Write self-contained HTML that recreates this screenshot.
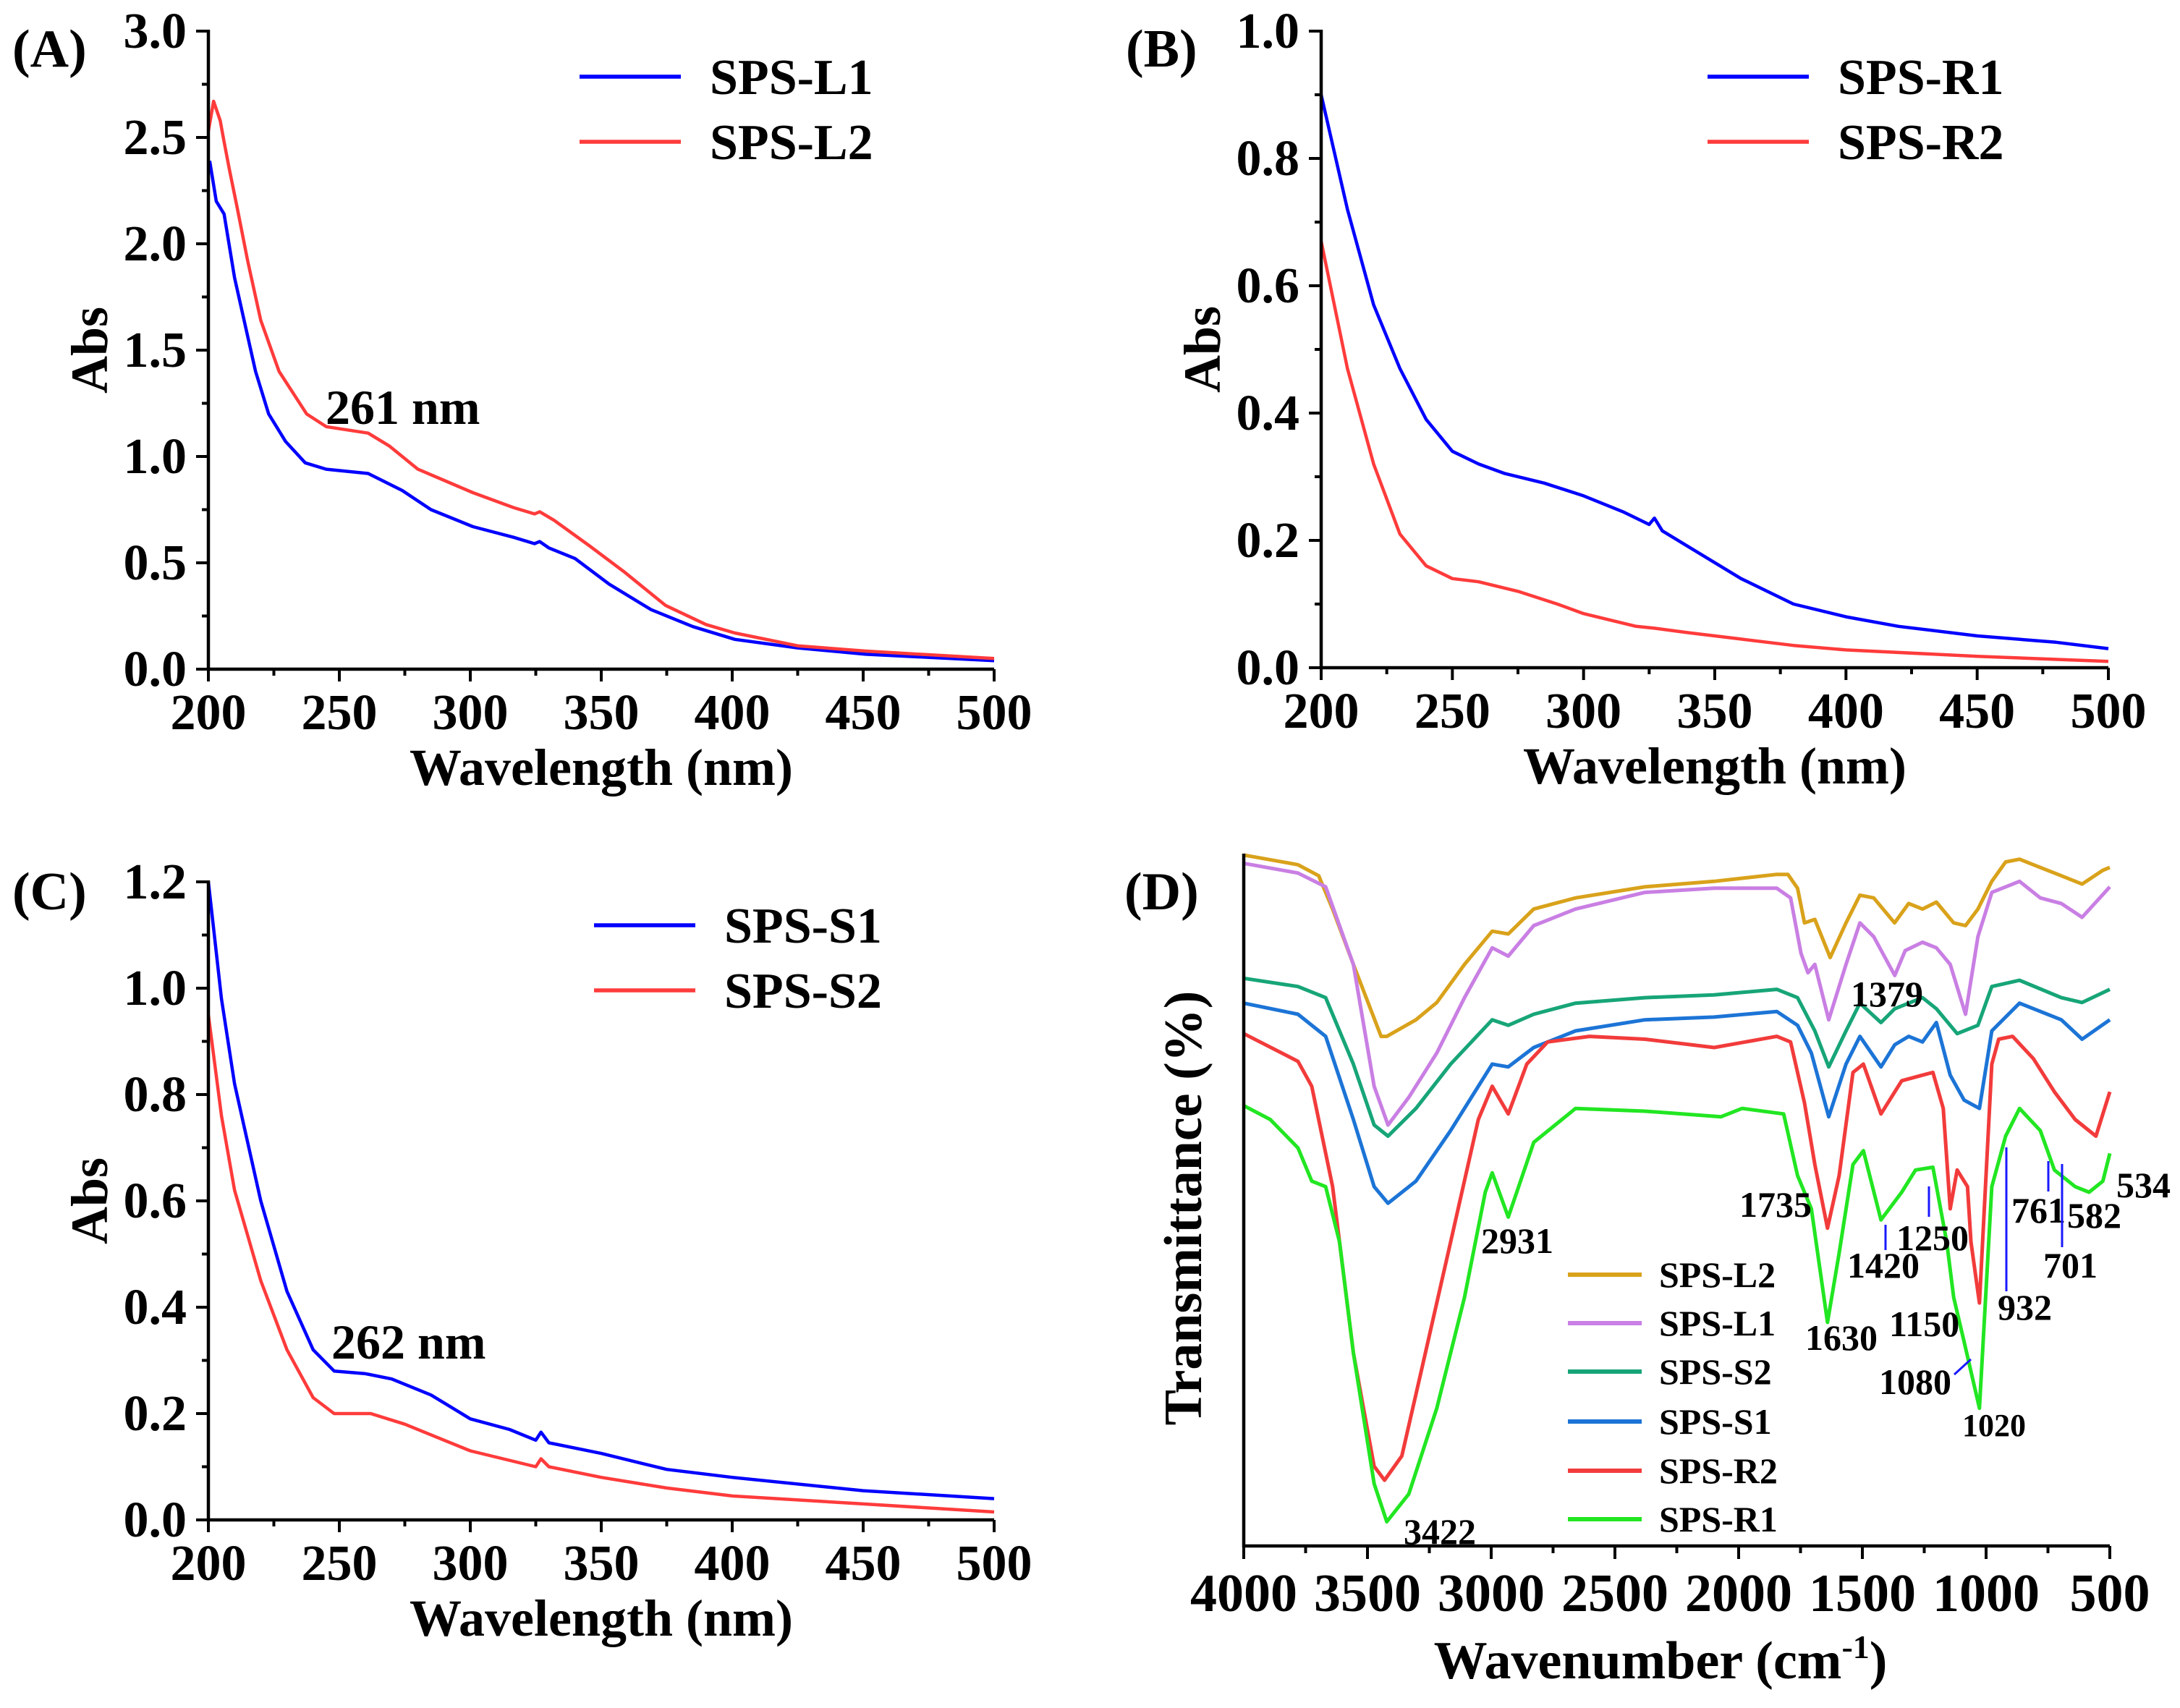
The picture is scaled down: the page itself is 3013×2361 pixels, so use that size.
<!DOCTYPE html>
<html><head><meta charset="utf-8">
<style>
html,body{margin:0;padding:0;background:#fff;}
svg{display:block;}
text{font-family:"Liberation Serif",serif;font-weight:bold;fill:#000;}
</style></head>
<body>
<svg id="fig" width="3013" height="2361" viewBox="0 0 3013 2361" xmlns="http://www.w3.org/2000/svg">
<rect width="3013" height="2361" fill="#fff"/>
</svg>
<script>
// ---------- Panel A data ----------
const aWlL1 = [200.5,203,206,210,214,218,223,229.5,237,245,261,274,285,301,316.5,324.5,326.5,330,340,353,369,385,401,425,451,500];
const aAbsL1 = [2.39,2.2,2.14,1.84,1.62,1.4,1.2,1.07,0.97,0.94,0.92,0.84,0.75,0.67,0.62,0.59,0.6,0.57,0.52,0.4,0.28,0.2,0.14,0.1,0.07,0.04];
const aWlL2 = [200,202,204.5,206,208,211,215,220,227,237.5,245,261,269,280,301,316.5,324.5,326.5,332,345.5,358.5,374.5,390,401,425,451,500];
const aAbsL2 = [2.53,2.67,2.58,2.48,2.35,2.17,1.92,1.64,1.4,1.2,1.14,1.11,1.05,0.94,0.83,0.76,0.73,0.74,0.7,0.58,0.46,0.3,0.21,0.17,0.11,0.085,0.05];
// ---------- Panel B data ----------
const bWlR1 = [200,210,220,230,240,250,260,270,285,300,315,325,327,330,340,360,380,400,420,450,480,500];
const bAbsR1 = [0.9,0.72,0.57,0.47,0.39,0.34,0.32,0.305,0.29,0.27,0.245,0.225,0.235,0.215,0.19,0.14,0.1,0.08,0.065,0.05,0.04,0.03];
const bWlR2 = [200,210,220,230,240,250,260,275,290,300,320,327,340,360,380,400,450,500];
const bAbsR2 = [0.67,0.47,0.32,0.21,0.16,0.14,0.135,0.12,0.1,0.085,0.065,0.062,0.055,0.045,0.035,0.028,0.018,0.01];
// ---------- Panel C data ----------
const cWlS1 = [200,205,210,220,230,240,248,260,270,285,300,315,325,327,330,350,375,400,450,500];
const cAbsS1 = [1.2,0.98,0.82,0.6,0.43,0.32,0.28,0.275,0.265,0.235,0.19,0.17,0.15,0.165,0.145,0.125,0.095,0.08,0.055,0.04];
const cWlS2 = [200,205,210,220,230,240,248,262,275,290,300,325,327,330,350,375,400,450,500];
const cAbsS2 = [0.95,0.76,0.62,0.45,0.32,0.23,0.2,0.2,0.18,0.15,0.13,0.1,0.115,0.1,0.08,0.06,0.045,0.03,0.015];
// ---------- Panel D data (FTIR) ----------
const dWnL2 = [4000,3781,3697,3641,3557,3445,3422,3304,3220,3108,2996,2931,2828,2659,2379,2099,1846,1801,1762,1734,1692,1630,1566,1510,1454,1370,1313,1257,1201,1131,1083,1033,977,921,865,809,696,612,528,500];
const dTL2 = [99.8,98.4,96.8,92,84,73.6,73.6,76,78.5,84,88.8,88.4,92,93.6,95.2,96,97,97,95,90,90.5,85,90,94,93.6,90,92.8,92,93,90,89.6,92,96,98.8,99.2,98.4,96.8,95.6,97.6,98];
const dWnL1 = [4000,3781,3669,3557,3473,3417,3333,3220,3108,2996,2931,2828,2659,2379,2099,1846,1790,1748,1720,1692,1636,1566,1510,1454,1369,1327,1257,1201,1145,1083,1033,977,865,781,696,612,500];
const dTL1 = [98.6,97.2,95.2,84,66.4,60.8,64.8,71.2,79.2,86.4,85.2,89.6,92,94.4,95,95,93.6,85.6,82.8,84,76,84,90,88,82.4,86,87.2,86.4,84,76.8,88,94.4,96,93.6,92.8,90.8,95.2];
const dWnS2 = [4000,3781,3669,3557,3473,3417,3304,3164,2996,2931,2828,2659,2379,2099,1846,1762,1692,1636,1566,1510,1425,1369,1313,1257,1201,1117,1033,977,865,696,612,500];
const dTS2 = [82,80.8,79.2,69.6,60.8,59.2,63.2,69.6,76,75.2,76.8,78.4,79.2,79.6,80.4,79.2,74.4,69.2,74.4,78.4,75.6,77.6,78.4,79.2,77.6,74,75.2,80.8,81.7,79.2,78.5,80.4];
const dWnS1 = [4000,3781,3669,3557,3473,3417,3304,3164,2996,2931,2828,2659,2379,2099,1846,1762,1706,1636,1566,1510,1425,1369,1313,1257,1201,1145,1089,1027,977,865,696,612,500];
const dTS1 = [78.4,76.8,73.6,61.6,51.9,49.5,52.7,60,69.6,69.2,72,74.4,76,76.4,77.2,75.2,71.2,62,69.6,73.6,69.2,72.4,73.6,72.8,75.6,68,64.4,63.2,74.4,78.4,76,73.2,76];
const dWnR2 = [4000,3781,3725,3641,3557,3473,3431,3361,3276,3164,3052,2996,2931,2856,2772,2603,2379,2099,1846,1790,1734,1692,1641,1594,1538,1496,1425,1341,1257,1215,1173,1145,1117,1075,1061,1027,977,949,893,809,724,640,556,500];
const dTR2 = [74,70,66.4,51.9,27.9,11.5,9.5,13,26.3,43.9,61.6,66.4,62.4,69.6,72.8,73.6,73.2,72,73.6,72.8,64,55.1,45.9,53.5,68.4,69.6,62.4,67.2,68,68.4,63.2,48.7,54.3,51.9,43.9,35.1,69.6,73.2,73.6,70.4,65.6,61.6,59.2,65.6];
const dWnR1 = [4000,3893,3781,3725,3669,3613,3557,3473,3422,3333,3220,3108,3024,2996,2931,2828,2659,2379,2071,1986,1818,1762,1706,1641,1594,1538,1496,1425,1341,1285,1215,1159,1131,1089,1027,977,921,865,781,724,640,584,528,500];
const dTR1 = [63.6,61.6,57.5,52.7,51.9,43.9,27.9,9,3.5,7.5,19.9,35.9,51.1,53.9,47.5,58.3,63.2,62.8,62,63.2,62.4,53.5,48.7,32.3,42.3,55.1,57.1,47.1,51.1,54.3,54.7,43.9,35.9,29.5,19.9,51.9,59.2,63.2,60,54.3,51.9,51.1,52.7,56.7];
const dNames = ["SPS-L2","SPS-L1","SPS-S2","SPS-S1","SPS-R2","SPS-R1"];
const dPeakLabels = ["3422","2931","1735","1630","1420","1379","1250","1150","1080","1020","932","761","701","582","534"];

const NS = "http://www.w3.org/2000/svg";
const svg = document.getElementById('fig');
function mk(tag, attrs, parent){
  const e = document.createElementNS(NS, tag);
  for (const k in attrs) e.setAttribute(k, attrs[k]);
  (parent||svg).appendChild(e);
  return e;
}
function txt(str, x, y, size, anchor, parent){
  const t = mk('text', {x:x, y:y, 'font-size':size, 'text-anchor':anchor||'start'}, parent);
  t.textContent = str;
  return t;
}
function linScale(d0,d1,r0,r1){ return v => r0 + (v-d0)/(d1-d0)*(r1-r0); }
function pathFrom(xs, ys, sx, sy){
  let d = '';
  for (let i=0;i<xs.length;i++) d += (i?'L':'M') + sx(xs[i]).toFixed(1) + ',' + sy(ys[i]).toFixed(1);
  return d;
}

function uvPanel(cfg){
  const g = mk('g', {});
  
  
  const sx = linScale(200,500,cfg.x0,cfg.x1);
  const sy = linScale(0,cfg.ymax,cfg.y0,cfg.y1);
  cfg.series.forEach(s=>{
    const p = mk('path', {d:pathFrom(s.x,s.y,sx,sy), fill:'none', stroke:s.color, 'stroke-width':4.5, 'stroke-linejoin':'round'}, g);
    
    
  });
  const ax = mk('path', {d:`M${cfg.x0},${cfg.y1-2}L${cfg.x0},${cfg.y0}L${cfg.x1},${cfg.y0}`, fill:'none', stroke:'#000', 'stroke-width':4.5}, g);
  
  
  for (let v=200; v<=500; v+=25){
    const major = v%50===0;
    mk('line', {x1:sx(v), x2:sx(v), y1:cfg.y0, y2:cfg.y0+(major?17:9), stroke:'#000','stroke-width':4}, g);
    if (major){
      const t = txt(String(v), sx(v), cfg.y0+83, 70, 'middle', g);
      
      
    }
  }
  const nMinor = Math.round(cfg.ymax/(cfg.ystep/2));
  for (let i=0;i<=nMinor;i++){
    const v = i*cfg.ystep/2;
    const major = i%2===0;
    mk('line', {x1:cfg.x0, x2:cfg.x0-(major?17:9), y1:sy(v), y2:sy(v), stroke:'#000','stroke-width':4}, g);
    if (major){
      const t = txt(v.toFixed(1), cfg.x0-30, sy(v)+23, 70, 'end', g);
      
      
    }
  }
  const xl = txt('Wavelength (nm)', (cfg.x0+cfg.x1)/2, cfg.y0+160, 72, 'middle', g);
  
  
  const yl = txt('Abs', 0, 0, 72, 'middle', g);
  yl.setAttribute('transform', `translate(${cfg.x0-140},${(cfg.y0+cfg.y1)/2}) rotate(-90)`);
  
  
  const pl = txt(cfg.label, cfg.labX, cfg.labY, 74, 'start', g);
  
  
  cfg.series.forEach((s,i)=>{
    const ly = cfg.legY + i*90;
    const ll = mk('line', {x1:cfg.legX, x2:cfg.legX+140, y1:ly, y2:ly, stroke:s.color, 'stroke-width':5.5}, g);
    
    
    const lt = txt(s.label, cfg.legX+180, ly+24, 70, 'start', g);
    
    
  });
  if (cfg.ann){
    const at = txt(cfg.ann, cfg.annX, cfg.annY, 68, 'start', g);
    
    
  }
}

uvPanel({name:'panel-a', x0:288, x1:1374, y0:925, y1:43, ymax:3.0, ystep:0.5, label:'(A)', labX:17, labY:92,
  legX:801, legY:106, ann:'261 nm', annX:450, annY:586,
  series:[{x:aWlL1,y:aAbsL1,color:'#0000ff',label:'SPS-L1',dn:'series-sps-l1'},{x:aWlL2,y:aAbsL2,color:'#ff3b3b',label:'SPS-L2',dn:'series-sps-l2'}]});
uvPanel({name:'panel-b', x0:1826, x1:2914, y0:923, y1:43, ymax:1.0, ystep:0.2, label:'(B)', labX:1556, labY:92,
  legX:2360, legY:106,
  series:[{x:bWlR1,y:bAbsR1,color:'#0000ff',label:'SPS-R1',dn:'series-sps-r1'},{x:bWlR2,y:bAbsR2,color:'#ff3b3b',label:'SPS-R2',dn:'series-sps-r2'}]});
uvPanel({name:'panel-c', x0:288, x1:1374, y0:2101, y1:1219, ymax:1.2, ystep:0.2, label:'(C)', labX:17, labY:1257,
  legX:821, legY:1279, ann:'262 nm', annX:458, annY:1878,
  series:[{x:cWlS1,y:cAbsS1,color:'#0000ff',label:'SPS-S1',dn:'series-sps-s1'},{x:cWlS2,y:cAbsS2,color:'#ff3b3b',label:'SPS-S2',dn:'series-sps-s2'}]});

(function(){
  const g = mk('g', {});
  
  
  const x0=1719, x1=2916, y0=2137, yTop=1180;
  const sx = linScale(4000,500,x0,x1);
  const sy = linScale(0,100,y0,yTop);
  const colors = ['#d9a21b','#c97fe3','#17a578','#1c74d6','#f23b3b','#22e622'];
  const xsArr = [dWnL2,dWnL1,dWnS2,dWnS1,dWnR2,dWnR1];
  const ysArr = [dTL2,dTL1,dTS2,dTS1,dTR2,dTR1];
  xsArr.forEach((xs,i)=>{
    const p = mk('path', {d:pathFrom(xs,ysArr[i],sx,sy), fill:'none', stroke:colors[i], 'stroke-width':5, 'stroke-linejoin':'round'}, g);
    
    
  });
  const ax = mk('path', {d:`M${x0},${yTop}L${x0},${y0}L${x1},${y0}`, fill:'none', stroke:'#000','stroke-width':4.5}, g);
  
  
  for (let v=4000; v>=500; v-=250){
    const major = v%500===0;
    mk('line', {x1:sx(v), x2:sx(v), y1:y0, y2:y0+(major?18:10), stroke:'#000','stroke-width':4}, g);
    if (major){
      const t = txt(String(v), sx(v), y0+90, 74, 'middle', g);
      
      
    }
  }
  const xl = txt('Wavenumber (cm', 2295, 2320, 74, 'middle', g);
  
  
  const sup = mk('tspan', {dy:-28, 'font-size':46}, xl); sup.textContent='-1';
  const sup2 = mk('tspan', {dy:28}, xl); sup2.textContent=')';
  const yl = txt('Transmittance (%)', 0, 0, 74, 'middle', g);
  yl.setAttribute('transform', 'translate(1660,1670) rotate(-90)');
  
  
  const pl = txt('(D)', 1554, 1257, 74, 'start', g);
  
  
  const legY = [1762,1829,1896,1965,2033,2100];
  dNames.forEach((n,i)=>{
    const ll = mk('line', {x1:2167, x2:2269, y1:legY[i], y2:legY[i], stroke:colors[i], 'stroke-width':6}, g);
    
    
    const lt = txt(n, 2293, legY[i]+17, 50, 'start', g);
    
    
  });
  const lp = {"3422":[1940,2134],"2931":[2047,1732],"1735":[2404,1682],"1630":[2495,1866],"1420":[2553,1766],"1379":[2558,1391],"1250":[2621,1728],"1150":[2611,1847],"1080":[2597,1927],"1020":[2712,1985],"932":[2761,1824],"761":[2780,1690],"701":[2824,1766],"582":[2857,1697],"534":[2925,1655]};
  dPeakLabels.forEach(s=>{
    const t = txt(s, lp[s][0], lp[s][1], s==='1020'?44:50, 'start', g);
    
    
  });
  const marks = [[2606,1693,2606,1728],[2666,1640,2666,1682],[2773,1586,2773,1785],[2831,1605,2831,1647],[2850,1609,2850,1724],[2701,1900,2724,1879]];
  marks.forEach(m=>{
    const l = mk('line', {x1:m[0],y1:m[1],x2:m[2],y2:m[3],stroke:'#1a1aff','stroke-width':3}, g);
    
    
  });
})();
</script>
</body></html>
